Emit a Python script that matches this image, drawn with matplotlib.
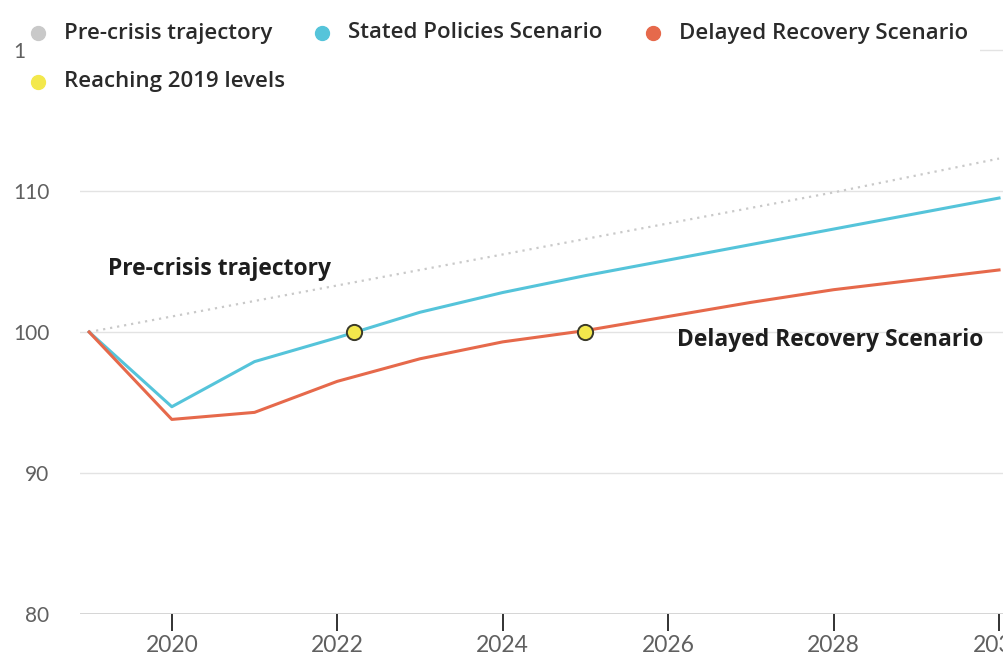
import matplotlib
matplotlib.use("Agg")
import matplotlib.pyplot as plt
from matplotlib.patches import Rectangle

years = [2019, 2020, 2021, 2022, 2023, 2024, 2025, 2026, 2027, 2028, 2029, 2030]
pre_crisis = [100.0, 101.1, 102.2, 103.3, 104.4, 105.5, 106.6, 107.7, 108.8, 109.9, 111.1, 112.3]
stated_policies = [100.0, 94.7, 97.9, 99.6, 101.4, 102.8, 104.0, 105.1, 106.2, 107.3, 108.4, 109.5]
delayed_recovery = [100.0, 93.8, 94.3, 96.5, 98.1, 99.3, 100.1, 101.1, 102.1, 103.0, 103.7, 104.4]
recovery_years = [2022.2, 2025.0]
recovery_levels = [100.0, 100.0]

y_ticks = [80, 90, 100, 110, 120]
x_ticks = [2020, 2022, 2024, 2026, 2028, 2030]

C_PRE = "#c9c9c9"
C_STEPS = "#55c4da"
C_DELAY = "#e6694b"
C_YELLOW = "#f3e84c"
TXT = "#1e1e1e"
TICK = "#606060"

fig = plt.figure(figsize=(10.04, 6.59), dpi=100)
ax = fig.add_axes([80 / 1004, 1 - 614 / 659, 1 - 80 / 1004, 614 / 659])
ax.set_xlim(2018.89, 2030.06)
ax.set_ylim(80, 80 + 614 / 14.1)

for y in y_ticks:
    ax.axhline(y, color="#e3e3e3", lw=1.0, zorder=0)
ax.axhline(80, color="#cfcfcf", lw=1.2, zorder=1)

ax.plot(years, pre_crisis, color=C_PRE, lw=1.6, ls=(0, (1, 2.2)), zorder=2)
ax.plot(years, stated_policies, color=C_STEPS, lw=2.2, zorder=3, solid_joinstyle="round")
ax.plot(years, delayed_recovery, color=C_DELAY, lw=2.2, zorder=3, solid_joinstyle="round")
ax.scatter(recovery_years, recovery_levels, s=120, color=C_YELLOW, edgecolor="#3a3a2a",
           linewidth=1.4, zorder=5)

for s in ax.spines.values():
    s.set_visible(False)
ax.set_yticks(y_ticks)
ax.set_xticks(x_ticks)
ax.tick_params(axis="y", length=0, pad=22, labelsize=15, labelcolor=TICK)
ax.tick_params(axis="x", length=12, width=1.3, color="#222222", pad=3, labelsize=16.5,
               labelcolor=TICK)
for lab in ax.get_xticklabels() + ax.get_yticklabels():
    lab.set_fontfamily("Lato")
    lab.set_fontweight("normal")

ax.text(2019.23, 104.5, "Pre-crisis trajectory", fontsize=16.5, fontweight="bold",
        family="Open Sans", color=TXT, va="center")
ax.text(2026.11, 99.45, "Delayed Recovery Scenario", fontsize=16.5, fontweight="bold",
        family="Open Sans", color=TXT, va="center")

# legend block
fig.patches.append(Rectangle((25 / 1004, 1 - 100 / 659), 955 / 1004, 100 / 659,
                             transform=fig.transFigure, facecolor="white",
                             edgecolor="none", zorder=2))
legend_items = [
    (38, 33, C_PRE, "Pre-crisis trajectory"),
    (322, 33, C_STEPS, "Stated Policies Scenario"),
    (653, 33, C_DELAY, "Delayed Recovery Scenario"),
    (38, 82, C_YELLOW, "Reaching 2019 levels"),
]
for px, py, col, label in legend_items:
    fig.add_artist(plt.Line2D([px / 1004], [1 - py / 659], marker="o", markersize=10,
                              color=col, transform=fig.transFigure, zorder=3))
    fig.text((px + 26) / 1004, 1 - py / 659, label, fontsize=16, fontweight="semibold",
             family="Open Sans", color="#2a2a2a", va="center", zorder=4)

fig.savefig("out.png", dpi=100)
